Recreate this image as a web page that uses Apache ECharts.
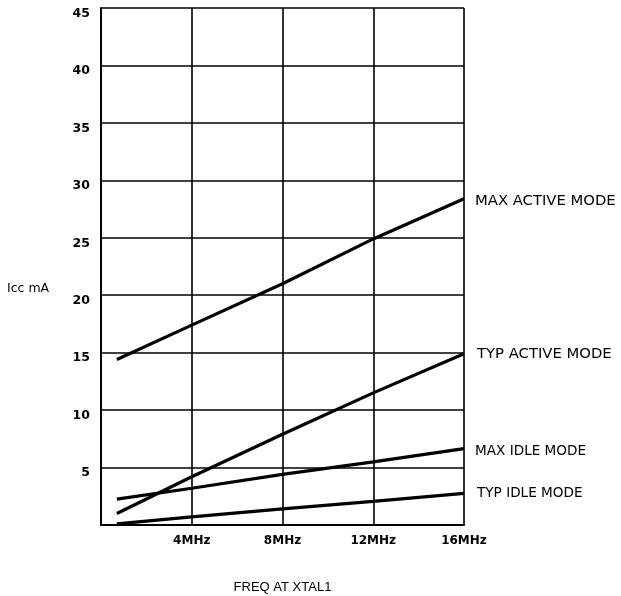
<!DOCTYPE html>
<html>
<head>
<meta charset="utf-8">
<script src="https://cdn.jsdelivr.net/npm/echarts@6/dist/echarts.min.js"></script>
<style>html,body{margin:0;padding:0;background:#fff;overflow:hidden;}#c{width:621px;height:596px;}</style>
</head>
<body>
<div id="c"></div>
<script>
const freqMHz = [0.7, 4, 8, 12, 16];
const maxActive = [14.4, 17.4, 21.0, 24.9, 28.4];
const typActive = [1.0, 4.2, 7.9, 11.5, 14.9];
const maxIdle = [2.25, 3.2, 4.4, 5.5, 6.65];
const typIdle = [0.1, 0.7, 1.4, 2.05, 2.75];
const seriesNames = ['MAX ACTIVE MODE', 'TYP ACTIVE MODE', 'MAX IDLE MODE', 'TYP IDLE MODE'];
const xTickLabels = {4: '4MHz', 8: '8MHz', 12: '12MHz', 16: '16MHz'};

const chart = echarts.init(document.getElementById('c'), null, {renderer: 'canvas'});
const pairs = arr => arr.map((v, i) => [freqMHz[i], v]);
const labelOffsets = [[11, 2], [13, 0], [11, 3], [13, 0]];
const labelSizes = [14.8, 14.8, 13.6, 13.6];
const mk = (name, arr, i) => ({
  name: name, type: 'line', data: pairs(arr), showSymbol: false, symbol: 'none',
  lineStyle: {color: '#000', width: 3.2}, animation: false,
  endLabel: {show: true, formatter: name, color: '#000', fontFamily: 'DejaVu Sans', fontSize: labelSizes[i],
    offset: labelOffsets[i], distance: 0}
});
chart.setOption({
  backgroundColor: '#fff',
  animation: false,
  grid: {left: 101, right: 157, top: 8, bottom: 71, outerBoundsMode: 'none', containLabel: false},
  xAxis: {
    type: 'value', min: 0, max: 16, interval: 4,
    axisLine: {lineStyle: {color: '#000', width: 2}},
    axisTick: {show: false},
    splitLine: {show: true, lineStyle: {color: '#000', width: 1.6}},
    axisLabel: {formatter: v => xTickLabels[v] || '', color: '#000', fontFamily: 'DejaVu Sans', fontWeight: 'bold', fontSize: 12, margin: 10},
    name: 'FREQ AT XTAL1', nameLocation: 'middle', nameGap: 56,
    nameTextStyle: {color: '#000', fontFamily: 'Liberation Sans', fontSize: 13}
  },
  yAxis: {
    type: 'value', min: 0, max: 45, interval: 5,
    axisLine: {show: true, lineStyle: {color: '#000', width: 2}},
    axisTick: {show: false},
    splitLine: {show: true, lineStyle: {color: '#000', width: 1.6}},
    axisLabel: {formatter: v => v === 0 ? '' : String(v), color: '#000', fontFamily: 'DejaVu Sans', fontWeight: 'bold', fontSize: 12.5, margin: 11, verticalAlign: 'top', lineHeight: 11}
  },
  graphic: [{type: 'text', left: 7, top: 282, style: {text: 'Icc mA', fill: '#000', font: '12.5px "DejaVu Sans"'}}],
  series: [mk(seriesNames[0], maxActive, 0), mk(seriesNames[1], typActive, 1), mk(seriesNames[2], maxIdle, 2), mk(seriesNames[3], typIdle, 3)]
});
</script>
</body>
</html>
